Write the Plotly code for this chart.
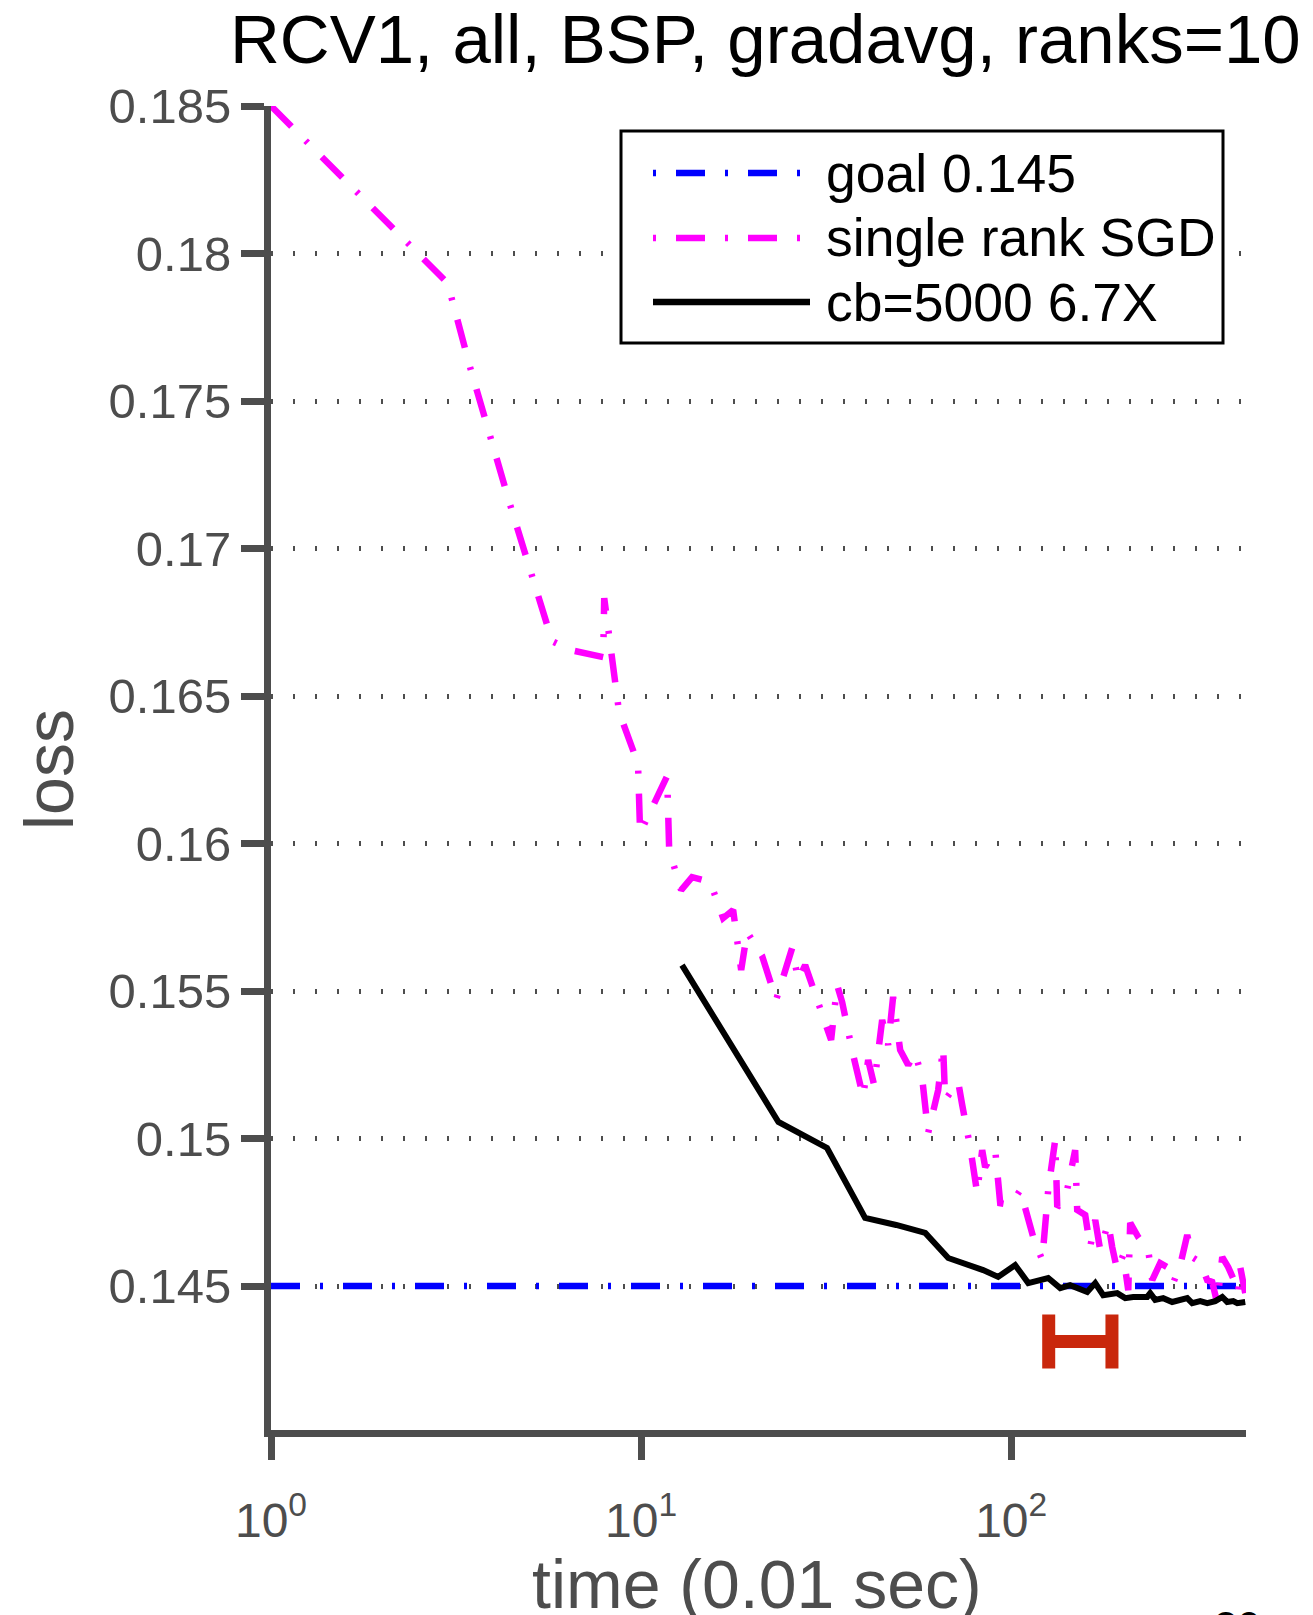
import plotly.graph_objects as go

# ---- data: time in units of 0.01 s, training loss ----
sgd_time = [1, 2, 3, 3.45, 4.43, 5.75, 6.43, 7.90, 7.95, 8.72,
            9.81, 9.94, 11.76, 11.91, 12.83, 13.73, 15.37, 16.66, 17.73, 18.64,
            19.34, 21.23, 23.17, 25.60, 26.57, 27.75, 32.62, 33.86, 34.93, 37.41,
            39.81, 41.07, 42.63, 44.81, 46.51, 47.97, 50.12, 52.68, 55.02, 57.47,
            59.66, 63.49, 65.49, 66.32, 71.92, 73.73, 77.48, 80.93, 83.49, 85.06,
            90.54, 93.40, 99.38, 105.8, 109.1, 114.7, 121.3, 125.9, 131.5, 133.2,
            139.9, 148.9, 150.8, 158.5, 163.5, 168.7, 174.0, 182.9, 187.5, 193.4,
            200.8, 207.2, 209.7, 220.4, 234.6, 240.5, 252.7, 264.0, 274.0, 286.3,
            299.0, 308.4, 324.2, 338.6, 349.3, 360.4, 371.8, 385.9, 403.1, 410.7,
            415.9, 429.0]
sgd_loss = [0.18500, 0.18120, 0.17900, 0.17615, 0.17147, 0.16686, 0.16656, 0.16632, 0.16832, 0.16446,
            0.16270, 0.16036, 0.16229, 0.15978, 0.15842, 0.15886, 0.15870, 0.15747, 0.15775, 0.15571,
            0.15700, 0.15619, 0.15470, 0.15646, 0.15537, 0.15588, 0.15334, 0.15520, 0.15463, 0.15283,
            0.15141, 0.15266, 0.15181, 0.15402, 0.15317, 0.15480, 0.15300, 0.15249, 0.15290, 0.15205,
            0.15019, 0.15164, 0.15310, 0.15131, 0.15192, 0.15114, 0.14971, 0.14815, 0.14961, 0.14903,
            0.14961, 0.14781, 0.14775, 0.14825, 0.14768, 0.14666, 0.14588, 0.14825, 0.14995, 0.14768,
            0.14792, 0.14961, 0.14758, 0.14741, 0.14632, 0.14724, 0.14622, 0.14714, 0.14632, 0.14554,
            0.14605, 0.14486, 0.14714, 0.14666, 0.14622, 0.14520, 0.14578, 0.14564, 0.14510, 0.14571,
            0.14673, 0.14598, 0.14581, 0.14520, 0.14514, 0.14442, 0.14598, 0.14564, 0.14510, 0.14476,
            0.14564, 0.14476]

cb_time = [12.9, 23.5, 31.8, 40.3, 48.9, 58.6, 67.6, 84.0, 92.2, 102.5,
           111.2, 125.9, 135.7, 144.3, 160.5, 168.7, 177.3, 193.4, 203.3, 213.7,
           233.1, 237.5, 245.0, 257.5, 272.3, 282.7, 299.0, 308.4, 324.2, 338.6,
           355.9, 371.8, 383.5, 398.1, 408.2, 429.0]
cb_loss = [0.15588, 0.15056, 0.14968, 0.14731, 0.14707, 0.14680, 0.14595, 0.14554, 0.14531, 0.14571,
           0.14510, 0.14527, 0.14493, 0.14503, 0.14480, 0.14510, 0.14469, 0.14476, 0.14459, 0.14463,
           0.14463, 0.14476, 0.14453, 0.14459, 0.14446, 0.14453, 0.14459, 0.14442, 0.14449, 0.14442,
           0.14449, 0.14463, 0.14446, 0.14449, 0.14442, 0.14446]

goal_time = [1, 431]
goal_loss = [0.145, 0.145]

# interval in which the goal loss is reached
reach_lo, reach_hi = 126.3, 187.2
reach_loss = 0.14312

x_tick_vals = [1, 10, 100]
x_tick_text = ["10<sup>0</sup>", "10<sup>1</sup>", "10<sup>2</sup>"]
y_tick_vals = [0.145, 0.15, 0.155, 0.16, 0.165, 0.17, 0.175, 0.18, 0.185]
y_tick_text = ["0.145", "0.15", "0.155", "0.16", "0.165", "0.17", "0.175", "0.18", "0.185"]

legend_labels = ["goal 0.145", "single rank SGD", "cb=5000 6.7X"]

# ---- styling ----
FONT = "Liberation Sans, Arial, Helvetica, sans-serif"
AXIS_GRAY = "#4d4d4d"
DASHDOT = "29px,20px,3px,20px"
W, H = 1313, 1615
ML, MR, MT, MB = 271, 67, 106, 185
PW, PH = W - ML - MR, H - MT - MB


def px_x(x):
    return (x - ML) / PW


def px_y(y):
    return (H - MB - y) / PH


fig = go.Figure()

fig.add_trace(go.Scatter(x=goal_time, y=goal_loss, mode="lines", name=legend_labels[0],
                         line=dict(color="#0000ff", width=6.5, dash=DASHDOT)))
fig.add_trace(go.Scatter(x=sgd_time, y=sgd_loss, mode="lines", name=legend_labels[1],
                         line=dict(color="#ff00ff", width=6.5, dash=DASHDOT)))
fig.add_trace(go.Scatter(x=cb_time, y=cb_loss, mode="lines", name=legend_labels[2],
                         line=dict(color="#000000", width=6)))

reach_mid = (reach_lo * reach_hi) ** 0.5
fig.add_trace(go.Scatter(
    x=[reach_mid], y=[reach_loss], mode="markers",
    marker=dict(size=1, color="rgba(0,0,0,0)"),
    error_x=dict(type="data", symmetric=False,
                 array=[reach_hi - reach_mid], arrayminus=[reach_mid - reach_lo],
                 color="#c9270c", thickness=13, width=27),
    showlegend=False, hoverinfo="skip"))

fig.update_xaxes(
    type="log", range=[0, 2.6345],
    tickvals=x_tick_vals, ticktext=x_tick_text,
    ticks="outside", ticklen=23, tickwidth=7, tickcolor=AXIS_GRAY,
    ticklabelstandoff=19,
    showline=True, linewidth=7, linecolor=AXIS_GRAY,
    showgrid=False, zeroline=False,
    tickfont=dict(family=FONT, size=48, color=AXIS_GRAY),
)
fig.update_yaxes(
    range=[0.14012, 0.185],
    tickvals=y_tick_vals, ticktext=y_tick_text,
    ticks="outside", ticklen=23, tickwidth=7, tickcolor=AXIS_GRAY,
    showline=True, linewidth=7, linecolor=AXIS_GRAY,
    showgrid=True, gridcolor=AXIS_GRAY, gridwidth=4.5, griddash="2px,20px",
    zeroline=False,
    tickfont=dict(family=FONT, size=49, color=AXIS_GRAY),
)

shapes = [
    dict(type="rect", xref="paper", yref="paper",
         x0=px_x(621), x1=px_x(1223), y0=px_y(343), y1=px_y(131),
         line=dict(color="black", width=3), fillcolor="white", layer="above"),
]
legend_rows = [
    (173, "#0000ff", "3px,20px,29px,20px", 800),
    (238, "#ff00ff", "3px,20px,29px,20px", 800),
    (302, "#000000", "solid", 810),
]
annotations = []
for (ry, col, dash, xend), label in zip(legend_rows, legend_labels):
    shapes.append(dict(type="line", xref="paper", yref="paper",
                       x0=px_x(653), x1=px_x(xend), y0=px_y(ry), y1=px_y(ry),
                       line=dict(color=col, width=6.5, dash=dash), layer="above"))
    annotations.append(dict(text=label, xref="paper", yref="paper",
                            x=px_x(824), y=px_y(ry), xanchor="left", yanchor="middle",
                            showarrow=False, font=dict(family=FONT, size=53.5, color="black")))

annotations += [
    dict(text="RCV1, all, BSP, gradavg, ranks=10", xref="paper", yref="paper",
         x=px_x(765), y=px_y(40), xanchor="center", yanchor="middle", showarrow=False,
         font=dict(family=FONT, size=69, color="black")),
    dict(text="loss", xref="paper", yref="paper", textangle=-90,
         x=px_x(49), y=px_y(770), xanchor="center", yanchor="middle", showarrow=False,
         font=dict(family=FONT, size=68, color=AXIS_GRAY)),
    dict(text="time (0.01 sec)", xref="paper", yref="paper",
         x=px_x(757), y=px_y(1584), xanchor="center", yanchor="middle", showarrow=False,
         font=dict(family=FONT, size=68, color=AXIS_GRAY)),
    dict(text="20", xref="paper", yref="paper",
         x=px_x(1237), y=px_y(1626), xanchor="center", yanchor="middle", showarrow=False,
         font=dict(family=FONT, size=42, color="black")),
]

fig.update_layout(
    width=W, height=H,
    margin=dict(l=ML, r=MR, t=MT, b=MB),
    paper_bgcolor="white", plot_bgcolor="white",
    showlegend=False,
    shapes=shapes, annotations=annotations,
    font=dict(family=FONT),
)

fig.write_html("out.html")
